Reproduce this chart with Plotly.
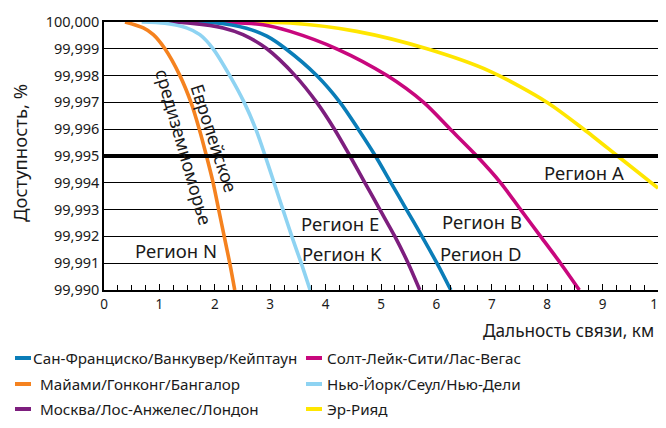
import plotly.graph_objects as go

# ---------------- data ----------------
y_ticks = [99.990, 99.991, 99.992, 99.993, 99.994, 99.995, 99.996, 99.997, 99.998, 99.999, 100.000]
y_ticktext = ["99,990", "99,991", "99,992", "99,993", "99,994", "99,995",
              "99,996", "99,997", "99,998", "99,999", "100,000"]
x_ticks = [0, 1, 2, 3, 4, 5, 6, 7, 8, 9, 10]
threshold = 99.995

sf_name = "Сан-Франциско/Ванкувер/Кейптаун"
sf_x = [1.20, 2.00, 2.57, 2.94, 3.28, 3.84, 4.26, 4.59, 4.90, 5.18, 5.46, 5.74, 6.01, 6.26]
sf_y = [100.0, 99.99997, 99.99977, 99.99947, 99.999, 99.998, 99.997, 99.996, 99.995,
        99.994, 99.993, 99.992, 99.991, 99.990]

mia_name = "Майами/Гонконг/Бангалор"
mia_x = [0.38, 0.71, 0.89, 1.10, 1.37, 1.57, 1.72, 1.85, 1.97, 2.07, 2.17, 2.27, 2.36]
mia_y = [100.0, 99.99978, 99.99953, 99.999, 99.998, 99.997, 99.996, 99.995, 99.994, 99.993, 99.992, 99.991, 99.990]

mow_name = "Москва/Лос-Анжелес/Лондон"
mow_x = [1.07, 1.60, 2.15, 2.51, 2.94, 3.45, 3.84, 4.16, 4.44, 4.71, 4.98, 5.25, 5.49, 5.70]
mow_y = [100.0, 99.99995, 99.99978, 99.99953, 99.999, 99.998, 99.997, 99.996, 99.995, 99.994, 99.993, 99.992, 99.991, 99.990]

slc_name = "Солт-Лейк-Сити/Лас-Вегас"
slc_x = [1.60, 2.87, 3.36, 4.20, 5.11, 5.77, 6.25, 6.73, 7.16, 7.52, 7.88, 8.24, 8.58]
slc_y = [100.0, 99.9999, 99.99965, 99.999, 99.998, 99.997, 99.996, 99.995, 99.994,
         99.993, 99.992, 99.991, 99.990]

nyc_name = "Нью-Йорк/Сеул/Нью-Дели"
nyc_x = [0.68, 1.10, 1.49, 1.73, 1.97, 2.27, 2.53, 2.74, 2.91, 3.07, 3.23, 3.39, 3.56, 3.72]
nyc_y = [100.0, 99.99995, 99.99978, 99.99953, 99.999, 99.998, 99.997, 99.996, 99.995, 99.994,
         99.993, 99.992, 99.991, 99.990]

ruh_name = "Эр-Рияд"
ruh_x = [2.18, 3.36, 4.56, 5.83, 6.97, 8.00, 8.66, 9.27, 10.0]
ruh_y = [100.0, 99.99996, 99.99965, 99.999, 99.99816, 99.997, 99.996, 99.995, 99.9938]

region_labels = ["Регион N", "Регион E", "Регион K", "Регион B", "Регион D", "Регион A"]
region_x = [1.30, 4.26, 4.29, 6.82, 6.79, 8.66]
region_y = [99.99146, 99.99249, 99.99137, 99.99255, 99.99137, 99.99438]

rot_labels = ["средиземноморье", "Европейское"]
rot_x = [1.45, 1.99]
rot_y = [99.99535, 99.99567]
rot_angle = [74, 72]

# ---------------- styles ----------------
FONT = "Noto Sans"
TXT = "#1a1a1a"
series = [
    (sf_name, sf_x, sf_y, "#0a7db8"),
    (mia_name, mia_x, mia_y, "#f5821f"),
    (mow_name, mow_x, mow_y, "#7d1e7e"),
    (slc_name, slc_x, slc_y, "#c8077d"),
    (nyc_name, nyc_x, nyc_y, "#8ed3f2"),
    (ruh_name, ruh_x, ruh_y, "#ffe600"),
]
draw_order = [5, 3, 0, 2, 4, 1]

fig = go.Figure()
for i in draw_order:
    name, xs, ys, col = series[i]
    fig.add_trace(go.Scatter(x=xs, y=ys, mode="lines", name=name,
                             line=dict(color=col, width=3.6, shape="spline", smoothing=0.8),
                             showlegend=False, hoverinfo="skip"))

# threshold line
fig.add_shape(type="line", xref="paper", x0=0, x1=1, yref="y", y0=threshold, y1=threshold,
              line=dict(color="black", width=3.8), layer="above")

# region labels
for t, x, y in zip(region_labels, region_x, region_y):
    fig.add_annotation(x=x, y=y, text=t, showarrow=False, xanchor="center", yanchor="middle",
                       font=dict(family=FONT, size=18.5, color=TXT))
for t, x, y, a in zip(rot_labels, rot_x, rot_y, rot_angle):
    fig.add_annotation(x=x, y=y, text=t, showarrow=False, textangle=a,
                       xanchor="center", yanchor="middle",
                       font=dict(family=FONT, size=18, color=TXT))

# layout geometry (pixels); the page body has an 8px margin
OFF = 8
W, H = 666 - OFF, 428 - OFF
L, R, T, B = 104 - OFF, 8, 22 - OFF, 138
pw, ph = W - L - R, H - T - B

def px(xp):
    return (xp - OFF - L) / pw

def py(yp):
    return (H - B - (yp - OFF)) / ph

# axis titles
fig.add_annotation(xref="paper", yref="paper", x=px(656), y=py(330), text="Дальность связи, км",
                   showarrow=False, xanchor="right", yanchor="middle",
                   font=dict(family=FONT, size=17.2, color=TXT))
fig.add_annotation(xref="paper", yref="paper", x=px(19), y=py(153), text="Доступность, %",
                   showarrow=False, textangle=-90, xanchor="center", yanchor="middle",
                   font=dict(family=FONT, size=18.5, color=TXT))

# manual legend: 2 columns x 3 rows
leg_rows = [358, 384, 409]
leg_cols = [(15, 31), (306, 322)]
legend_order = [[0, 1, 2], [3, 4, 5]]
for c, idxs in enumerate(legend_order):
    x0, x1 = leg_cols[c]
    for r, i in enumerate(idxs):
        name, _, _, col = series[i]
        yy = py(leg_rows[r])
        fig.add_shape(type="line", xref="paper", yref="paper", x0=px(x0), x1=px(x1), y0=yy, y1=yy,
                      line=dict(color=col, width=4))
        if c == 0:
            tx = x1 + (0 if r == 0 else 7)
        else:
            tx = x1 + 3
        fig.add_annotation(xref="paper", yref="paper", x=px(tx), y=yy, text=name, showarrow=False,
                           xanchor="left", yanchor="middle",
                           font=dict(family=FONT, size=15.2, color=TXT))

fig.update_layout(
    width=W, height=H, margin=dict(l=L, r=R, t=T, b=B, autoexpand=False),
    paper_bgcolor="white", plot_bgcolor="white",
    font=dict(family=FONT, color=TXT),
    xaxis=dict(range=[0, 10], tickvals=x_ticks, ticks="inside", ticklen=6, tickcolor="black",
               tickwidth=1, showgrid=False, zeroline=False, showline=True, linecolor="black",
               linewidth=1.5, mirror=True, automargin=False, ticklabeloverflow="allow",
               ticklabelstandoff=1,
               tickfont=dict(family=FONT, size=13.5, color=TXT),
               minor=dict(dtick=0.25, ticks="inside", ticklen=5, tickcolor="black", showgrid=False)),
    yaxis=dict(range=[99.990, 100.000], tickvals=y_ticks, ticktext=y_ticktext, ticks="",
               showgrid=True, gridcolor="black", gridwidth=1, zeroline=False, showline=True,
               linecolor="black", linewidth=1.5, mirror=True, automargin=False,
               ticklabeloverflow="allow",
               tickfont=dict(family=FONT, size=14.5, color=TXT)),
)

fig.write_html("out.html")
